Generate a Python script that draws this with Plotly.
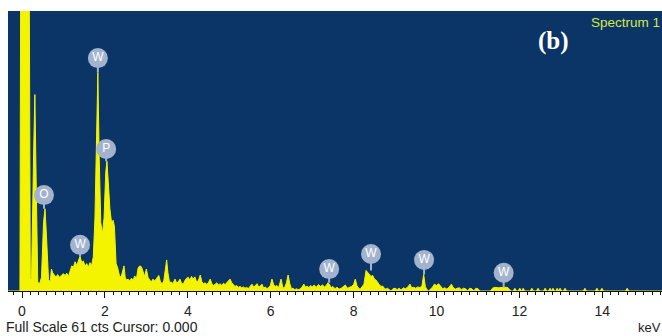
import plotly.graph_objects as go

# ---- spectrum data (keV, counts) ----
energy = [
    -0.34, -0.05, -0.03, 0.17, 0.20, 0.23, 0.28, 0.31, 0.34, 0.38, 0.42, 0.47, 0.52, 0.555, 0.59, 0.64,
    0.68, 0.71, 0.74, 0.78, 0.82, 0.86, 0.90, 0.95, 1.00, 1.04, 1.08, 1.12, 1.16, 1.20, 1.24, 1.28,
    1.32, 1.36, 1.40, 1.44, 1.48, 1.52, 1.56, 1.60, 1.64, 1.68, 1.72, 1.76, 1.80, 1.83, 1.86, 1.90,
    1.94, 1.98, 2.02, 2.05, 2.08, 2.12, 2.16, 2.20, 2.23, 2.27, 2.31, 2.35, 2.39, 2.43, 2.46, 2.49,
    2.52, 2.56, 2.60, 2.64, 2.68, 2.72, 2.76, 2.80, 2.84, 2.88, 2.92, 2.96, 3.00, 3.04, 3.08, 3.12,
    3.16, 3.20, 3.25, 3.30, 3.34, 3.38, 3.42, 3.46, 3.49, 3.52, 3.56, 3.60, 3.64, 3.69, 3.73, 3.77,
    3.81, 3.85, 3.89, 3.93, 3.97, 4.01, 4.05, 4.09, 4.13, 4.17, 4.21, 4.25, 4.30, 4.34, 4.38, 4.42,
    4.46, 4.50, 4.54, 4.58, 4.62, 4.66, 4.70, 4.74, 4.78, 4.82, 4.86, 4.90, 4.94, 4.98, 5.02, 5.06,
    5.10, 5.14, 5.18, 5.22, 5.26, 5.30, 5.34, 5.38, 5.42, 5.46, 5.50, 5.55, 5.59, 5.63, 5.67, 5.71,
    5.75, 5.79, 5.83, 5.87, 5.91, 5.95, 5.99, 6.03, 6.07, 6.11, 6.15, 6.19, 6.25, 6.29, 6.33, 6.38,
    6.42, 6.46, 6.50, 6.54, 6.58, 6.62, 6.66, 6.70, 6.75, 6.80, 6.84, 6.88, 6.92, 6.96, 7.00, 7.05,
    7.10, 7.15, 7.20, 7.25, 7.30, 7.34, 7.38, 7.42, 7.46, 7.50, 7.55, 7.60, 7.65, 7.70, 7.75, 7.80,
    7.85, 7.90, 7.95, 8.00, 8.04, 8.08, 8.12, 8.16, 8.20, 8.25, 8.30, 8.34, 8.38, 8.42, 8.46, 8.50,
    8.54, 8.58, 8.62, 8.66, 8.70, 8.74, 8.78, 8.82, 8.86, 8.90, 8.95, 9.00, 9.05, 9.10, 9.15, 9.20,
    9.25, 9.30, 9.36, 9.40, 9.45, 9.50, 9.55, 9.60, 9.65, 9.69, 9.73, 9.77, 9.81, 9.85, 9.90, 9.95,
    10.00, 10.05, 10.10, 10.15, 10.20, 10.25, 10.30, 10.36, 10.40, 10.45, 10.50, 10.55, 10.60, 10.65, 10.70, 10.75,
    10.80, 10.85, 10.90, 10.95, 11.00, 11.05, 11.30, 11.35, 11.40, 11.50, 11.60, 11.70, 11.75, 11.80,
    11.85, 11.89, 11.93, 11.97, 12.01, 12.05, 12.09, 12.13, 12.26, 12.30, 12.34, 12.41, 12.45, 12.49,
    12.58, 12.62, 12.66, 12.70, 12.74, 12.78, 12.81, 12.85, 12.88, 12.91, 12.95, 12.98, 13.02, 13.06, 13.10, 13.14,
    13.54, 13.58, 13.62, 13.83, 13.87, 13.91, 13.95, 13.99, 14.03, 14.56, 14.60, 14.64, 15.50,
]
counts = [
    0, 0, 80, 80, 2, 3, 30, 43, 25, 2, 1.5, 3, 15, 18, 12, 2.5,
    2, 4.8, 4, 3.5, 3, 3.6, 3.0, 3.4, 3.8, 3.4, 3.9, 3.2, 4.2, 5.5, 5.2, 6.4,
    5.6, 6.8, 7.6, 6.2, 6.6, 5.4, 6.0, 5.2, 6.2, 5.6, 7.5, 16, 38, 47.8, 30, 15,
    12.5, 16, 26, 28.4, 24, 18, 15, 15.5, 14, 6, 5, 3.4, 3.0, 4.5, 5.5, 3,
    2.4, 2.6, 2.2, 2.8, 2.4, 3.3, 2.6, 5.0, 5.5, 5.3, 4.4, 3.2, 4.8, 3.0, 2.4, 2.0,
    2.6, 2.2, 2.8, 3.4, 2.0, 1.6, 2.2, 5.0, 6.8, 4.0, 1.8, 2.0, 1.6, 2.6, 1.8, 2.0,
    2.6, 1.7, 1.5, 2.3, 2.8, 3.0, 2.4, 3.2, 2.6, 3.1, 2.0, 2.2, 3.5, 2.0, 1.6, 1.8,
    1.4, 1.9, 2.6, 1.6, 1.2, 1.5, 1.8, 1.3, 1.6, 1.2, 1.7, 1.4, 1.8, 2.2, 2.6, 1.8,
    1.3, 1.0, 1.2, 0.8, 1.0, 0.7, 0.9, 0.6, 0.8, 0.5, 1.0, 1.5, 0.8, 1.2, 1.6, 0.9,
    1.1, 1.5, 0.6, 0.9, 0.5, 0.8, 1.2, 2.6, 1.4, 1.0, 1.2, 0.7, 2.6, 0.8, 0.6, 1.8,
    3.5, 1.6, 0.5, 0.6, 0.3, 0.5, 0.3, 0.4, 0.8, 1.5, 0.8, 1.1, 0.7, 1.2, 0.9, 1.3,
    0.8, 1.4, 1.0, 1.3, 0.9, 1.2, 1.8, 1.4, 0.7, 1.0, 0.5, 0.8, 0.4, 0.6, 0.9, 1.3,
    0.6, 0.8, 1.0, 1.4, 2.6, 1.2, 0.6, 0.4, 0.8, 1.5, 4.5, 4.0, 3.6, 3.2, 3.4, 2.6,
    2.4, 1.8, 1.4, 1.0, 1.1, 0.6, 0.4, 0.6, 0.2, 0, 0.5, 0.6, 0.3, 0.6, 0.2, 0.7,
    0.5, 0.8, 1.5, 0.7, 0.8, 0.6, 0.9, 0.7, 1.2, 3.6, 1.0, 0.3, 0, 0.3, 0.8, 1.5,
    1.2, 1.6, 1.0, 0.5, 0.7, 0.4, 0.8, 1.5, 0.8, 0.4, 0.6, 0.7, 0.3, 0.6, 0.5, 0,
    0.6, 0.5, 0, 0.6, 0.5, 0, 0, 0.6, 0.8, 0.7, 0.8, 0.8, 0.5, 0,
    0, 0.6, 0, 0, 0.6, 0, 0.6, 0, 0, 0.6, 0, 0, 0.6, 0,
    0, 0.6, 0, 0, 0.6, 0, 0.6, 0, 0, 0.6, 0, 0.6, 0, 0, 0.6, 0,
    0, 0.6, 0, 0, 0.6, 0, 0, 0.6, 0, 0, 0.6, 0, 0,
]

# ---- element labels ----
label_text = ["O", "W", "W", "P", "W", "W", "W", "W"]
label_energy = [0.53, 1.40, 1.83, 2.03, 7.41, 8.42, 9.70, 11.62]
label_count = [21.0, 10.1, 51.0, 31.1, 4.8, 8.1, 6.8, 4.0]
label_peak = [18.0, 7.6, 47.8, 28.4, 1.8, 4.5, 3.6, 0.8]

tick_vals = [0, 2, 4, 6, 8, 10, 12, 14]
tick_text = ["0", "2", "4", "6", "8", "10", "12", "14"]

full_scale = 61
bg_blue = "#0b3567"
yellow = "#f4f400"
circle_col = "#a3b3cd"

fig = go.Figure()
fig.add_trace(go.Scatter(
    x=energy, y=counts, mode="lines", fill="tozeroy",
    line=dict(color=yellow, width=1), fillcolor=yellow, hoverinfo="skip",
))

# stems
sx, sy = [], []
for e, c, p in zip(label_energy, label_count, label_peak):
    sx += [e, e, None]
    sy += [p, c, None]
fig.add_trace(go.Scatter(x=sx, y=sy, mode="lines",
                         line=dict(color=circle_col, width=2), hoverinfo="skip"))
fig.add_trace(go.Scatter(
    x=label_energy, y=label_count, mode="markers+text", text=label_text,
    textposition="middle center",
    marker=dict(symbol="circle", size=20, color=circle_col, line=dict(width=0)),
    textfont=dict(family="Liberation Sans", size=12, color="white"),
    hoverinfo="skip",
))

fig.update_layout(
    width=662, height=336,
    margin=dict(l=8, r=0, t=11, b=45),
    paper_bgcolor="white", plot_bgcolor=bg_blue,
    showlegend=False,
    font=dict(family="Liberation Sans", size=14, color="#222222"),
    xaxis=dict(
        range=[-0.338, 15.44], showgrid=False, zeroline=False,
        showline=True, linecolor="#111111", linewidth=1,
        ticks="outside", ticklen=6, tickcolor="#111111", tickwidth=1,
        tickvals=tick_vals, ticktext=tick_text, ticklabelstandoff=1,
        tickfont=dict(family="Liberation Sans", size=14, color="#222222"),
        minor=dict(dtick=0.2, tick0=0, ticks="outside", ticklen=3,
                   tickcolor="#111111", showgrid=False),
        fixedrange=True,
    ),
    yaxis=dict(range=[0, full_scale * 1.005], visible=False, showgrid=False,
               zeroline=False, fixedrange=True),
    annotations=[
        dict(text=f"Full Scale {full_scale} cts Cursor: 0.000", xref="paper", yref="paper",
             x=0, y=0, xanchor="left", yanchor="middle", xshift=-4, yshift=-36,
             showarrow=False, font=dict(family="Liberation Sans", size=14, color="#222222")),
        dict(text="keV", xref="paper", yref="paper", x=1, y=0, xanchor="right",
             yanchor="middle", xshift=1, yshift=-36, showarrow=False,
             font=dict(family="Liberation Sans", size=13, color="#222222")),
        dict(text="Spectrum 1", xref="paper", yref="paper", x=1, y=1, xanchor="right",
             yanchor="middle", xshift=0, yshift=-11, showarrow=False,
             font=dict(family="Liberation Sans", size=13.5, color="#d2ea48")),
        dict(text="<b>(b)</b>", xref="paper", yref="paper", x=0.834, y=1, xanchor="center",
             yanchor="middle", yshift=-30, showarrow=False,
             font=dict(family="Liberation Serif", size=25, color="white")),
    ],
)

fig.write_html("out.html", config={"displayModeBar": False},
               post_script="document.body.style.margin='0';document.body.style.overflow='hidden';")
